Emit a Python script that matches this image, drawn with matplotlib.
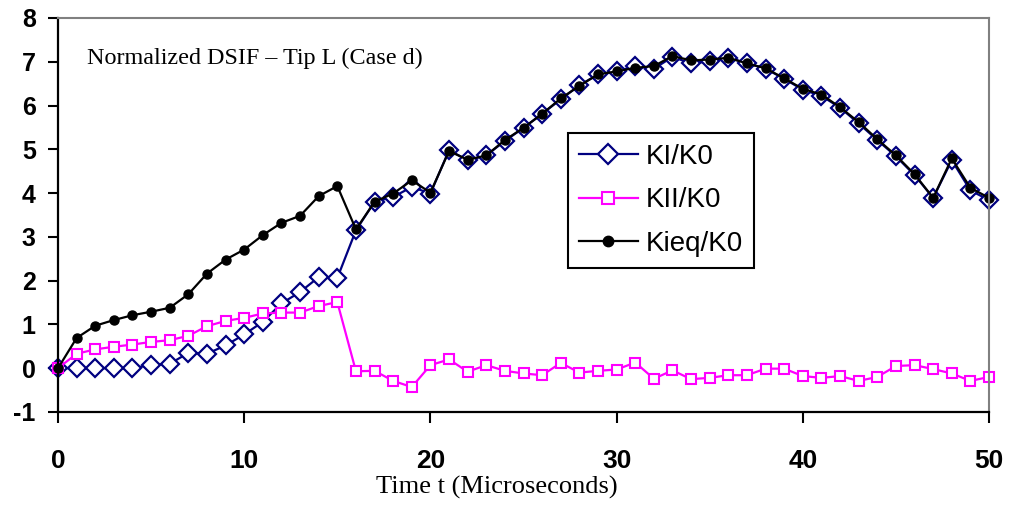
import matplotlib
matplotlib.use("Agg")
import matplotlib.pyplot as plt
import numpy as np

plt.rcParams["axes.unicode_minus"] = False

# time steps (microseconds)
t = np.arange(0, 51)

ki = [0, 0, 0, 0, 0, 0.07, 0.1, 0.35, 0.33, 0.52, 0.77, 1.06, 1.48, 1.74, 2.08, 2.06,
      3.15, 3.8, 3.91, 4.14, 3.99, 4.98, 4.75, 4.86, 5.19, 5.49, 5.81, 6.14, 6.46, 6.71,
      6.78, 6.9, 6.84, 7.11, 6.96, 7.01, 7.09, 6.97, 6.84, 6.61, 6.36, 6.22, 5.95, 5.59,
      5.21, 4.84, 4.41, 3.89, 4.75, 4.06, 3.84]

kii = [0, 0.33, 0.43, 0.49, 0.54, 0.6, 0.64, 0.74, 0.96, 1.08, 1.15, 1.25, 1.27, 1.27,
       1.42, 1.51, -0.07, -0.06, -0.29, -0.43, 0.07, 0.2, -0.08, 0.07, -0.06, -0.12,
       -0.16, 0.12, -0.1, -0.06, -0.03, 0.13, -0.24, -0.05, -0.25, -0.22, -0.16, -0.16,
       -0.01, -0.01, -0.18, -0.22, -0.18, -0.29, -0.2, 0.05, 0.07, -0.02, -0.12, -0.29, -0.2]

kieq = [0, 0.69, 0.97, 1.1, 1.21, 1.29, 1.38, 1.69, 2.16, 2.48, 2.71, 3.04, 3.32, 3.48,
        3.93, 4.16, 3.17, 3.8, 3.99, 4.29, 4.01, 4.96, 4.76, 4.86, 5.21, 5.49, 5.81, 6.16,
        6.45, 6.71, 6.78, 6.86, 6.9, 7.13, 7.03, 7.05, 7.09, 6.96, 6.85, 6.62, 6.38, 6.25,
        5.96, 5.62, 5.23, 4.86, 4.43, 3.89, 4.79, 4.12, 3.89]

xticks = [0, 10, 20, 30, 40, 50]
yticks = list(range(-1, 9))

fig = plt.figure(figsize=(10.09, 5.08), dpi=100)
ax = fig.add_axes([0.0575, 0.189, 0.9227, 0.7757])

ax.plot(t, ki, color="#000080", lw=1.6, marker="D", ms=9, mfc="white", mec="#000080",
        mew=1.6, label="KI/K0", clip_on=False)
ax.plot(t, kii, color="#ff00ff", lw=1.6, marker="s", ms=7.5, mfc="white", mec="#ff00ff",
        mew=1.5, label="KII/K0", clip_on=False)
ax.plot(t, kieq, color="black", lw=1.6, marker="o", ms=6.5, label="Kieq/K0", clip_on=False)

ax.set_xlim(0, 50)
ax.set_ylim(-1, 8)
ax.set_xticks(xticks)
ax.set_yticks(yticks)
ax.tick_params(axis="x", direction="out", length=8, width=1.5, pad=19)
ax.tick_params(axis="y", direction="out", length=7, width=1.5, pad=9)
for lab in ax.get_xticklabels():
    lab.set_fontfamily("Liberation Sans")
    lab.set_fontweight("bold")
    lab.set_fontsize(19)
for lab in ax.get_yticklabels():
    lab.set_fontfamily("Liberation Sans")
    lab.set_fontweight("bold")
    lab.set_fontsize(18)

for s in ["left", "bottom"]:
    ax.spines[s].set_linewidth(1.6)
    ax.spines[s].set_color("black")
for s in ["top", "right"]:
    ax.spines[s].set_linewidth(1.5)
    ax.spines[s].set_color("#808080")

ax.set_xlabel("Time t (Microseconds)", fontfamily="Liberation Serif", fontsize=19)
ax.xaxis.set_label_coords(0.4715, -0.163)
ax.text(0.031, 0.883, "Normalized DSIF \u2013 Tip L (Case d)", transform=ax.transAxes,
        fontfamily="Liberation Serif", fontsize=17.4, va="baseline", ha="left")

leg = ax.legend(loc="upper left", bbox_to_anchor=(0.548, 0.708), fancybox=False,
                framealpha=1, edgecolor="black", borderpad=0.4, handlelength=2.1,
                handletextpad=0.3, labelspacing=0.62, borderaxespad=0, markerscale=1.15,
                prop={"family": "Liberation Sans", "size": 20})
leg.get_frame().set_linewidth(1.5)

fig.savefig("out.png", dpi=100)
